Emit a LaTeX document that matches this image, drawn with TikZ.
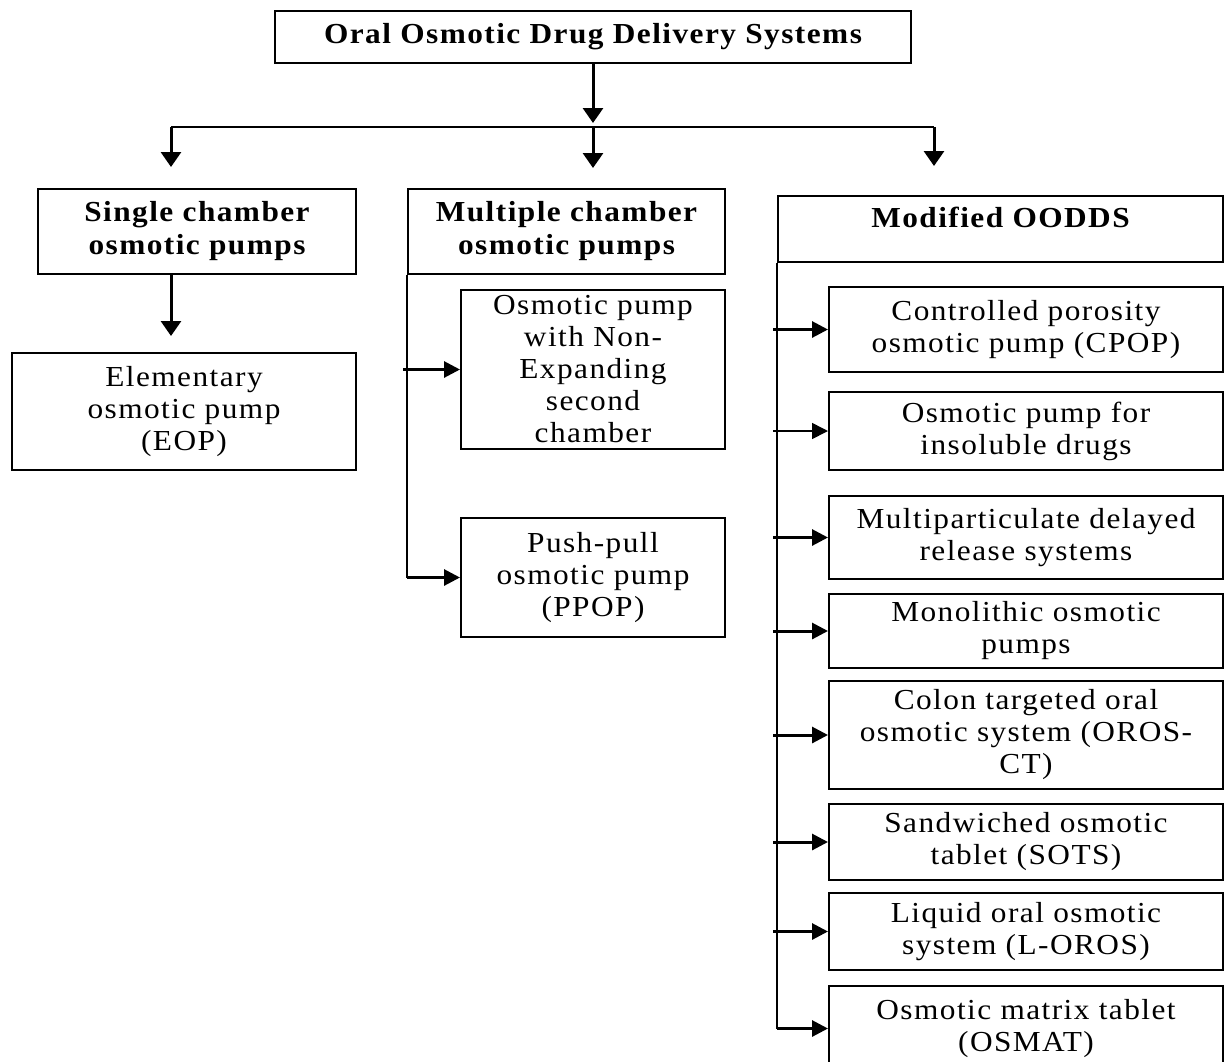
\documentclass[tikz,border=0pt]{standalone}
\usepackage{fontspec}
\setmainfont{Liberation Serif}[FakeStretch=1.08,LetterSpace=5]
\usetikzlibrary{arrows.meta}
\begin{document}
\begin{tikzpicture}[x=1pt,y=-1pt,
  box/.style={draw, line width=2pt, inner sep=0pt, anchor=north west, align=center, font=\fontsize{29}{32}\selectfont},
  bbox/.style={box, font=\fontsize{29}{33}\selectfont\bfseries},
  link/.style={line width=2.2pt},
  varr/.style={line width=3pt, -{Triangle[length=15pt,width=20pt]}},
  harr/.style={line width=3pt, -{Triangle[length=16pt,width=16pt]}, shorten <=-4pt},
  harrthin/.style={harr, line width=1.6pt}]
\useasboundingbox[fill=white] (0,0) rectangle (1224,1061);
\clip (0,0) rectangle (1224,1061);

% top
\node[bbox, minimum width=636pt, minimum height=52pt] (title) at (274,10) {Oral Osmotic Drug Delivery Systems};

% first level
\node[bbox, minimum width=318pt, minimum height=85pt] (single) at (37,188) {Single chamber\\osmotic pumps};
\node[bbox, minimum width=317pt, minimum height=85pt] (multi) at (407,188) {Multiple chamber\\osmotic pumps};
\node[bbox, minimum width=445pt, minimum height=66pt, text height=31pt, text depth=35pt] (mod) at (777,195) {Modified OODDS};

% single chamber
\node[box, minimum width=344pt, minimum height=117pt] (eop) at (11,352) {Elementary\\osmotic pump\\(EOP)};

% multiple chamber
\node[box, minimum width=264pt, minimum height=159pt] (nonexp) at (460,289) {Osmotic pump\\with Non-\\Expanding\\second\\chamber};
\node[box, minimum width=264pt, minimum height=119pt] (ppop) at (460,517) {Push-pull\\osmotic pump\\(PPOP)};

% modified
\node[box, minimum width=394pt, minimum height=85pt] (cpop) at (828,286) {Controlled porosity\\osmotic pump (CPOP)};
\node[box, minimum width=394pt, minimum height=78pt] (insol) at (828,391) {Osmotic pump for\\insoluble drugs};
\node[box, minimum width=394pt, minimum height=83pt] (multip) at (828,495) {Multiparticulate delayed\\release systems};
\node[box, minimum width=394pt, minimum height=74pt] (mono) at (828,593) {Monolithic osmotic\\pumps};
\node[box, minimum width=394pt, minimum height=108pt] (colon) at (828,680) {Colon targeted oral\\osmotic system (OROS-\\CT)};
\node[box, minimum width=394pt, minimum height=76pt] (sand) at (828,803) {Sandwiched osmotic\\tablet (SOTS)};
\node[box, minimum width=394pt, minimum height=77pt] (liquid) at (828,892) {Liquid oral osmotic\\system (L-OROS)};
\node[box, minimum width=394pt, minimum height=85pt] (osmat) at (828,985) {Osmotic matrix tablet\\(OSMAT)};

% distribution line
\coordinate (hl) at (171,127);
\coordinate (hm) at (593,127);
\coordinate (hr) at (934,127);
\draw[varr, shorten >=4pt] (title.south -| hm) -- (hm);
\draw[link] (hl) -- (hr);
\draw[varr, shorten >=21pt] (hl) -- (single.north -| hl);
\draw[varr, shorten >=20pt] (hm) -- (multi.north -| hm);
\draw[varr, shorten >=29pt] (hr) -- (mod.north -| hr);
\draw[varr, shorten >=16pt] (single.south -| hl) -- (eop.north -| hl);

% multiple chamber trunk
\draw[link] (multi.south west) -- (multi.south west |- ppop.west);
\draw[harr] (multi.south west |- nonexp.west) -- (nonexp.west);
\draw[harr, shorten <=0pt] (multi.south west |- ppop.west) -- (ppop.west);

% modified trunk
\draw[link] (mod.south west) -- (mod.south west |- osmat.west);
\draw[harr] (mod.south west |- cpop.west) -- (cpop.west);
\draw[harrthin] (mod.south west |- insol.west) -- (insol.west);
\draw[harr] (mod.south west |- multip.west) -- (multip.west);
\draw[harr] (mod.south west |- mono.west) -- (mono.west);
\draw[harr] (mod.south west |- colon.west) -- (colon.west);
\draw[harr] (mod.south west |- sand.west) -- (sand.west);
\draw[harr] (mod.south west |- liquid.west) -- (liquid.west);
\draw[harr, shorten <=0pt] (mod.south west |- osmat.west) -- (osmat.west);
\end{tikzpicture}
\end{document}
